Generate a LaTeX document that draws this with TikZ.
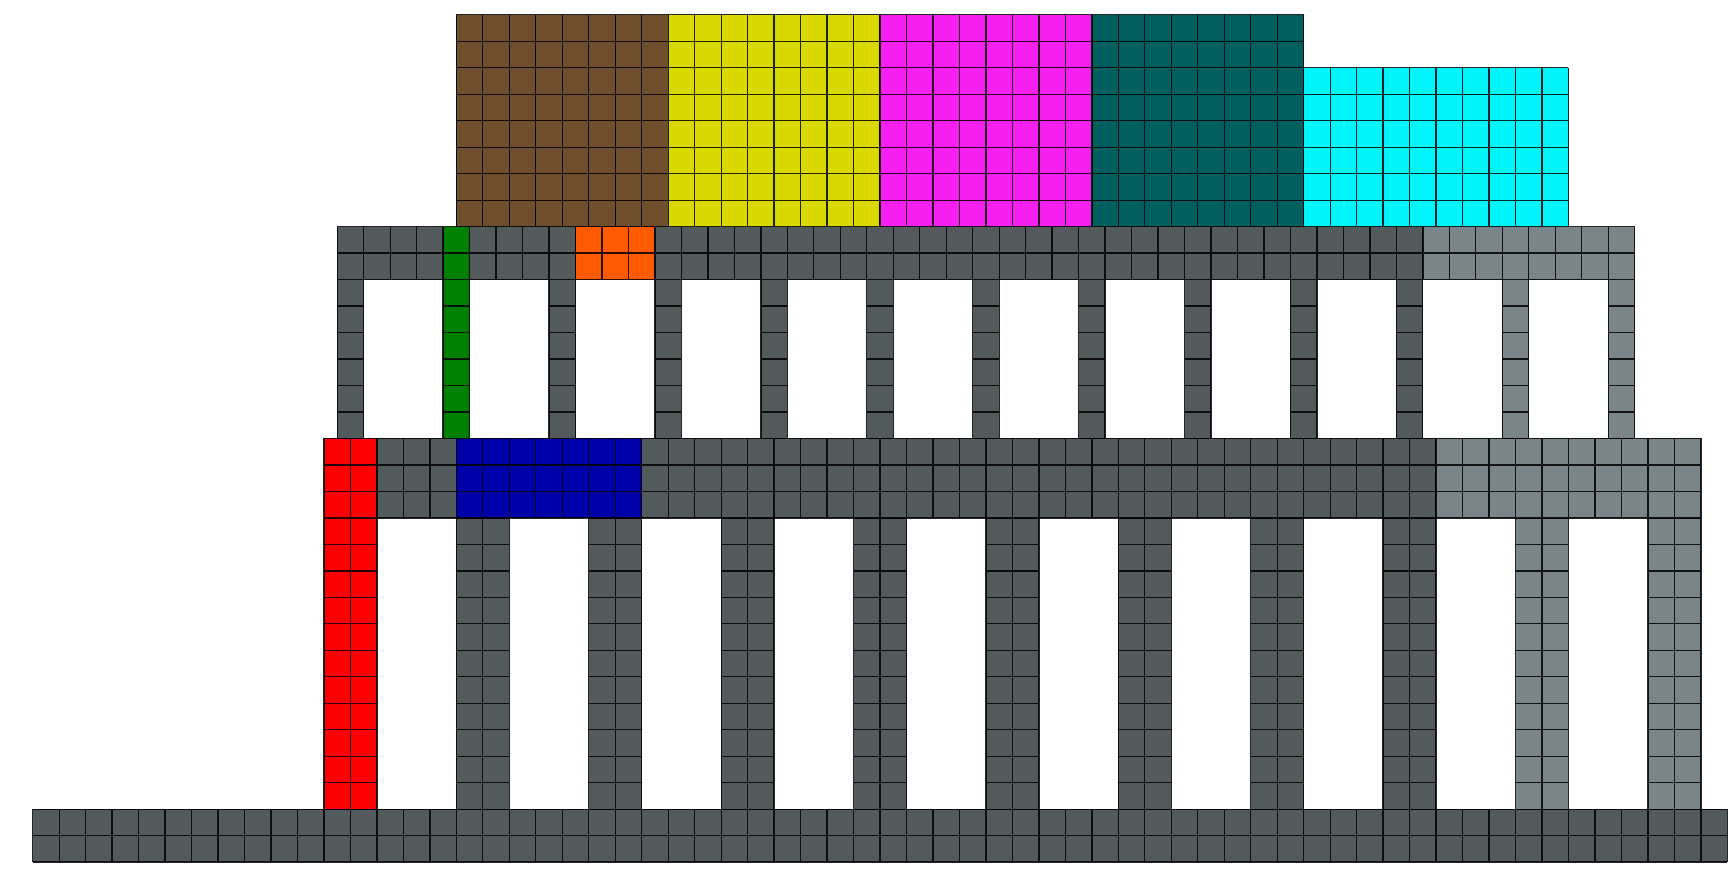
\documentclass[tikz,border=0pt]{standalone}
\usepackage{tikz}

\definecolor{steel}{HTML}{525A5C}
\definecolor{steellight}{HTML}{7A8589}
\definecolor{brickred}{HTML}{FF0000}
\definecolor{brickblue}{HTML}{0000AA}
\definecolor{brickgreen}{HTML}{008000}
\definecolor{brickorange}{HTML}{FF5A00}
\definecolor{brickbrown}{HTML}{6F4E2E}
\definecolor{brickyellow}{HTML}{D9D900}
\definecolor{brickmagenta}{HTML}{F520EF}
\definecolor{brickteal}{HTML}{006060}
\definecolor{brickcyan}{HTML}{00F5FA}

\tikzset{cellline/.style={black, line width=0.7pt, opacity=0.85, step=0.5cm}}

% block of unit cells: x, y, width, height, colour
\newcommand{\bricks}[5]{%
  \begin{scope}[shift={(#1,#2)}]
    \fill[#5] (0,0) rectangle (#3,#4);
    \draw[cellline] (0,0) grid (#3,#4);
  \end{scope}}

\begin{document}
\begin{tikzpicture}[x=0.5cm, y=0.5cm]
      \useasboundingbox (-1.235,-0.48) rectangle (64.10,32.56);
      % base
      \bricks{0}{0}{64}{2}{steel}
      % lower level
      \bricks{11}{2}{2}{14}{brickred}
      \foreach \c in {16,21,...,51} {\bricks{\c}{2}{2}{11}{steel}}
      \foreach \c in {56,61} {\bricks{\c}{2}{2}{11}{steellight}}
      \bricks{13}{13}{3}{3}{steel}
      \bricks{16}{13}{7}{3}{brickblue}
      \bricks{23}{13}{30}{3}{steel}
      \bricks{53}{13}{10}{3}{steellight}
      % upper level
      \foreach \c in {11.5,19.5,23.5,...,51.5} {\bricks{\c}{16}{1}{6}{steel}}
      \foreach \c in {55.5,59.5} {\bricks{\c}{16}{1}{6}{steellight}}
      \bricks{15.5}{16}{1}{8}{brickgreen}
      \bricks{11.5}{22}{4}{2}{steel}
      \bricks{16.5}{22}{4}{2}{steel}
      \bricks{20.5}{22}{3}{2}{brickorange}
      \bricks{23.5}{22}{29}{2}{steel}
      \bricks{52.5}{22}{8}{2}{steellight}
      % top blocks
      \bricks{16}{24}{8}{8}{brickbrown}
      \bricks{24}{24}{8}{8}{brickyellow}
      \bricks{32}{24}{8}{8}{brickmagenta}
      \bricks{40}{24}{8}{8}{brickteal}
      \bricks{48}{24}{10}{6}{brickcyan}
    \end{tikzpicture}
\end{document}
